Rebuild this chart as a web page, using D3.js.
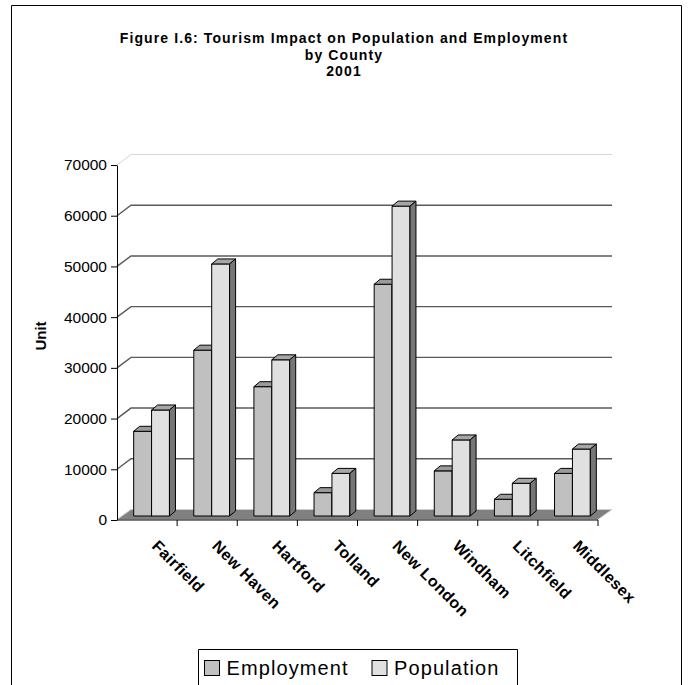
<!DOCTYPE html>
<html>
<head>
<meta charset="utf-8">
<script src="https://cdn.jsdelivr.net/npm/d3@7/dist/d3.min.js"></script>
<style>
  html, body { margin: 0; padding: 0; background: #fff; }
  svg { display: block; }
  text { font-family: "Liberation Sans", Arial, Helvetica, sans-serif; fill: #000; }
</style>
</head>
<body>
<svg id="chart" width="690" height="685"></svg>
<script>
// County figures, 2001
const categories = ["Fairfield", "New Haven", "Hartford", "Tolland", "New London", "Windham", "Litchfield", "Middlesex"];
const seriesNames = ["Employment", "Population"];
const employment = [16700, 32700, 25500, 4600, 45700, 8900, 3300, 8400];
const population = [20900, 49700, 30800, 8400, 61100, 15000, 6450, 13200];
const yTicks = [0, 10000, 20000, 30000, 40000, 50000, 60000, 70000];
const titleLines = ["Figure I.6: Tourism Impact on Population and Employment", "by County", "2001"];

const seriesValues = { Employment: employment, Population: population };
const fills = {
  Employment: { front: "#c0c0c0", top: "#9a9a9a", side: "#808080" },
  Population: { front: "#e0e0e0", top: "#a6a6a6", side: "#767676" }
};

const svg = d3.select("#chart");

// outer frame
svg.append("path")
  .attr("d", "M11.5,690V5.5H681.5V690")
  .attr("fill", "none").attr("stroke", "#000").attr("stroke-width", 1);

// title
svg.append("g").selectAll("text").data(titleLines).join("text")
  .attr("x", 344).attr("y", (d, i) => 43 + i * 16.5)
  .attr("text-anchor", "middle")
  .attr("font-weight", "bold").attr("font-size", 14)
  .attr("letter-spacing", 1.1)
  .text(d => d);

// scales
const y = d3.scaleLinear().domain([0, 70000]).range([520, 165]);
const x0 = d3.scaleBand().domain(categories).range([117, 598]).padding(0);
const x1 = d3.scaleBand().domain(seriesNames).range([0, x0.bandwidth()])
  .paddingInner(0).paddingOuter(0.68);

// 3-D offsets: back wall depth, bar placement within depth, bar depth
const wall = { dx: 14, dy: -10.5 };
const barShift = { dx: 4.5, dy: -4 };
const barDepth = { dx: 6, dy: -5 };

// back-wall gridlines with the diagonal returns to the axis
const grid = svg.append("g");
yTicks.filter(v => v > 0).forEach(v => {
  const yy = y(v);
  grid.append("path")
    .attr("d", `M117,${yy}L${117 + wall.dx},${yy + wall.dy}H${598 + wall.dx}`)
    .attr("fill", "none")
    .attr("stroke", v === 70000 ? "#d6d6d6" : "#5a5a5a")
    .attr("stroke-width", v === 70000 ? 1 : 1.4);
});

// floor
const y0 = y(0);
svg.append("path")
  .attr("d", `M117,${y0 - 0.5}H598L${598 + wall.dx},${y0 + wall.dy}H${117 + wall.dx}Z`)
  .attr("fill", "#808080").attr("stroke", "#cfcfcf").attr("stroke-width", 1);

// y axis
const yAxis = svg.append("g")
  .attr("transform", "translate(117,0)")
  .call(d3.axisLeft(y).tickValues(yTicks).tickSize(6).tickSizeOuter(0).tickPadding(4).tickFormat(d3.format("d")));
yAxis.select(".domain").attr("stroke", "#000");
yAxis.selectAll("line").attr("stroke", "#000");
yAxis.selectAll("text")
  .attr("font-family", "'Liberation Sans', Arial, sans-serif")
  .attr("font-size", 15.5).attr("fill", "#000");

// x axis line and category boundary ticks
svg.append("line")
  .attr("x1", 117).attr("x2", 598).attr("y1", y0).attr("y2", y0)
  .attr("stroke", "#000");
const bounds = categories.slice(1).map(c => x0(c)).concat([x0.range()[1]]);
svg.append("g").selectAll("line").data(bounds).join("line")
  .attr("x1", d => d).attr("x2", d => d)
  .attr("y1", y0).attr("y2", y0 + 6)
  .attr("stroke", "#000");

// bars
const barsG = svg.append("g").attr("stroke", "#000").attr("stroke-width", 1).attr("stroke-linejoin", "round");
categories.forEach((c, i) => {
  seriesNames.forEach(s => {
    const v = seriesValues[s][i];
    const w = x1.bandwidth();
    const xl = x0(c) + x1(s) + barShift.dx;
    const yt = y(v) + barShift.dy;
    const yb = y(0) + barShift.dy;
    const g = barsG.append("g");
    g.append("rect")
      .attr("x", xl).attr("y", yt).attr("width", w).attr("height", yb - yt)
      .attr("fill", fills[s].front);
    g.append("path")
      .attr("d", `M${xl},${yt}L${xl + barDepth.dx},${yt + barDepth.dy}H${xl + w + barDepth.dx}L${xl + w},${yt}Z`)
      .attr("fill", fills[s].top);
    g.append("path")
      .attr("d", `M${xl + w},${yt}L${xl + w + barDepth.dx},${yt + barDepth.dy}V${yb + barDepth.dy}L${xl + w},${yb}Z`)
      .attr("fill", fills[s].side);
  });
});

// category labels
svg.append("g").selectAll("text").data(categories).join("text")
  .attr("transform", d => `translate(${x0(d) + x0.bandwidth() / 2 + 4},547) rotate(45)`)
  .attr("font-weight", "bold").attr("font-size", 16)
  .attr("letter-spacing", 0.4)
  .text(d => d);

// y axis title
svg.append("text")
  .attr("transform", "translate(40,336) rotate(-90)")
  .attr("text-anchor", "middle").attr("dominant-baseline", "central")
  .attr("font-weight", "bold").attr("font-size", 15)
  .text("Unit");

// legend
const legend = svg.append("g");
legend.append("path")
  .attr("d", "M198.5,685V649.5H517.5V685")
  .attr("fill", "none").attr("stroke", "#000");
const legendX = [204.5, 372];
seriesNames.forEach((s, i) => {
  legend.append("rect")
    .attr("x", legendX[i]).attr("y", 660.5).attr("width", 15).attr("height", 15)
    .attr("fill", fills[s].front).attr("stroke", "#000");
  legend.append("text")
    .attr("x", legendX[i] + 22).attr("y", 674.5)
    .attr("font-size", 20).attr("letter-spacing", 1.1)
    .text(s);
});
</script>
</body>
</html>
